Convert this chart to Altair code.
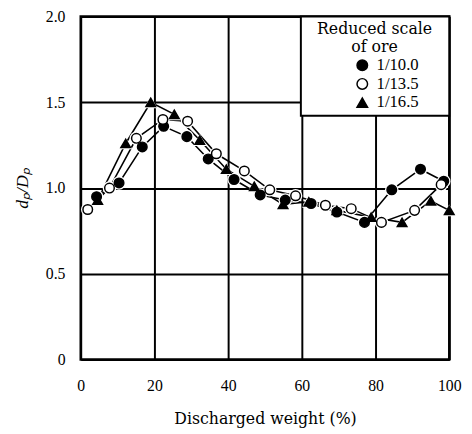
import altair as alt
import pandas as pd

# ---- data ----
series_names = ["1/10.0", "1/13.5", "1/16.5"]

x_10 = [4.3, 10.4, 16.7, 22.5, 28.8, 34.6, 41.6, 48.7, 55.5, 62.5, 69.5, 77.0, 84.4, 92.2, 98.5]
y_10 = [0.95, 1.03, 1.24, 1.36, 1.30, 1.17, 1.05, 0.96, 0.93, 0.91, 0.86, 0.80, 0.99, 1.11, 1.04]

x_135 = [1.9, 7.8, 15.1, 22.3, 29.0, 36.8, 44.4, 51.3, 58.3, 66.4, 73.4, 81.6, 90.6, 97.8]
y_135 = [0.875, 1.00, 1.29, 1.40, 1.39, 1.20, 1.10, 0.99, 0.955, 0.90, 0.88, 0.80, 0.87, 1.02]

x_165 = [4.6, 12.2, 19.0, 25.4, 32.3, 39.5, 47.1, 54.9, 61.9, 69.5, 78.8, 87.2, 95.0, 100.0]
y_165 = [0.93, 1.26, 1.50, 1.43, 1.28, 1.11, 1.01, 0.905, 0.92, 0.87, 0.83, 0.80, 0.925, 0.87]

x_ticks = [0, 20, 40, 60, 80, 100]
y_ticks = [0, 0.5, 1.0, 1.5, 2.0]

shapes = {"1/10.0": "circle", "1/13.5": "circle", "1/16.5": "triangle-up"}
fills = {"1/10.0": "black", "1/13.5": "white", "1/16.5": "black"}

rows = []
for name, xs, ys in [("1/10.0", x_10, y_10), ("1/16.5", x_165, y_165), ("1/13.5", x_135, y_135)]:
    for i, (xv, yv) in enumerate(zip(xs, ys)):
        rows.append({"series": name, "x": xv, "y": yv, "order": i, "shp": shapes[name]})
df = pd.DataFrame(rows)

FONT = "Liberation Serif"
TFONT = "DejaVu Serif"

xaxis = alt.Axis(values=x_ticks, title="Discharged weight (%)", grid=True, gridColor="black",
                 gridWidth=2, gridOpacity=1, domain=False, ticks=False, labelPadding=18,
                 labelFontSize=16, titleFontSize=16, titlePadding=18, labelFont=FONT,
                 titleFont=TFONT, titleFontWeight="normal", labelColor="black", titleColor="black",
                 labelFlush=False)
yaxis = alt.Axis(values=y_ticks, title="dₚ/Dₚ", grid=True, gridColor="black", gridWidth=2,
                 gridOpacity=1, domain=False, ticks=False, labelPadding=16, labelFontSize=16,
                 titleFontSize=18, titlePadding=14, labelFont=FONT, titleFont=FONT,
                 titleFontWeight="normal", titleFontStyle="italic", labelColor="black",
                 titleColor="black", labelFlush=False,
                 labelExpr="datum.value == 0 ? '0' : format(datum.value, '.1f')")

base = alt.Chart(df).encode(
    x=alt.X("x:Q", scale=alt.Scale(domain=[0, 100], nice=False, zero=False), axis=xaxis),
    y=alt.Y("y:Q", scale=alt.Scale(domain=[0, 2], nice=False), axis=yaxis),
)

lines = base.mark_line(color="black", strokeWidth=1.6).encode(detail="series:N", order="order:Q")

halo = base.mark_point(filled=True, color="white", opacity=1, size=190).encode(
    shape=alt.Shape("shp:N", scale=None)
)

leg = alt.Legend(title=["\u2800Reduced scale\u2800", "of ore"], orient="top-right", offset=0)

markers = base.mark_point(filled=True, strokeWidth=1.5, opacity=1, size=95).encode(
    shape=alt.Shape("series:N", scale=alt.Scale(domain=series_names,
                                                range=[shapes[s] for s in series_names]), legend=leg),
    fill=alt.Fill("series:N", scale=alt.Scale(domain=series_names,
                                              range=[fills[s] for s in series_names]), legend=leg),
    stroke=alt.Stroke("series:N", scale=alt.Scale(domain=series_names,
                                                  range=["black", "black", "black"]), legend=leg),
)

chart = alt.layer(lines, halo, markers).properties(
    width=375, height=349,
    autosize=alt.AutoSizeParams(type="none"),
    padding={"left": 74, "top": 5, "right": 15, "bottom": 72},
    background="white",
).configure_axis(
    labelFont=FONT
).configure_view(
    stroke="black", strokeWidth=2.5
).configure_legend(
    strokeColor="black", strokeWidth=2, fillColor="white", padding=5, cornerRadius=0,
    titleFont=TFONT, titleFontSize=16, titleFontWeight="normal", titleColor="black",
    titleAnchor="middle", titleAlign="center", titleLineHeight=18, titlePadding=2,
    labelFont=FONT, labelFontSize=17, labelColor="black", labelOffset=6,
    symbolSize=115, symbolStrokeWidth=1.5, symbolOffset=24,
    rowPadding=1,
)

chart.save("out.html", embed_options={"renderer": "svg", "actions": False})
